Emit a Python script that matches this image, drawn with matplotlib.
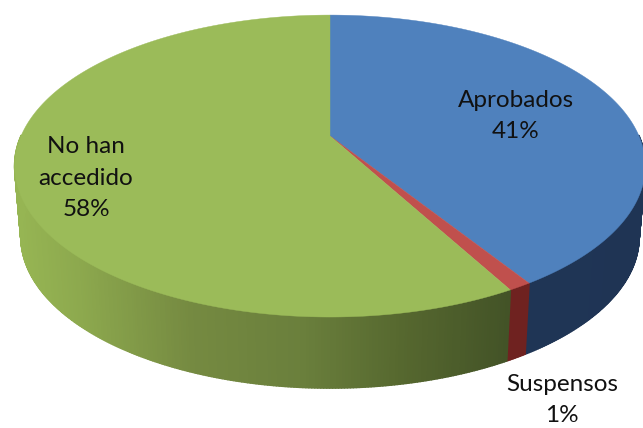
import numpy as np
import matplotlib
matplotlib.use("Agg")
import matplotlib.pyplot as plt
from matplotlib.collections import PolyCollection
from matplotlib.colors import LinearSegmentedColormap, Normalize

labels = ["Aprobados", "Suspensos", "No han\naccedido"]
values = [41, 1, 58]
top_colors = ["#4F81BD", "#C0504D", "#9BBB59"]
side_stops = [
    [(0.0, "#203758"), (1.0, "#1F3454")],
    [(0.0, "#6F2220"), (1.0, "#6F2220")],
    [(0.0, "#96B553"), (0.12, "#8DA94E"), (0.35, "#758A41"), (0.58, "#6A7F3C"), (0.78, "#56682F"), (1.0, "#435327")],
]
label_pos = [(516, 116), (562, 400), (86, 178)]

CX, CY, W, H, K, DEPTH, SHRINK = 330, 136, 309, 145, 0.199, 71, 0.98


def project(theta):
    """Clockwise angle from twelve o'clock on the disc -> perspective pixels."""
    x, y = np.sin(theta), np.cos(theta)
    d = 1 + K * y
    return CX + W * x / d, CY - H * y / d


fig = plt.figure(figsize=(6.43, 4.28), dpi=100, facecolor="white")
ax = fig.add_axes([0, 0, 1, 1])
ax.set_xlim(0, 643)
ax.set_ylim(428, 0)
ax.axis("off")

edges = np.cumsum([0] + values) / sum(values) * 2 * np.pi
xmin, xmax = project(-np.pi / 2)[0] - 5, project(edges[2])[0]

# rim (side wall), front half only; tops cover the join
for i in range(len(values)):
    th = np.linspace(edges[i], edges[i + 1], max(int(values[i] * 8), 12))
    X, Y = project(th)
    XB = CX + (X - CX) * SHRINK
    YB = Y + DEPTH
    polys, cols = [], []
    if i == 2:
        cmap = LinearSegmentedColormap.from_list("g", side_stops[i])
        norm = Normalize(xmin, xmax)
    else:
        cmap = LinearSegmentedColormap.from_list("s%d" % i, side_stops[i])
        norm = Normalize(X.min(), X.max())
    for j in range(len(th) - 1):
        if np.cos(th[j]) > 0 and np.cos(th[j + 1]) > 0:
            continue
        polys.append([(X[j], Y[j]), (X[j + 1], Y[j + 1]),
                      (XB[j + 1], YB[j + 1]), (XB[j], YB[j])])
        cols.append(cmap(norm((X[j] + X[j + 1]) / 2)))
    ax.add_collection(PolyCollection(polys, facecolors=cols, edgecolors=cols, linewidths=1.2))

# top faces
for i in range(len(values)):
    th = np.linspace(edges[i], edges[i + 1], max(int(values[i] * 8), 12))
    X, Y = project(th)
    ax.fill(np.r_[CX, X], np.r_[CY, Y], color=top_colors[i], lw=0.3, zorder=3)

for lab, val, (px, py) in zip(labels, values, label_pos):
    ax.text(px, py, f"{lab}\n{val}%", ha="center", va="center", fontsize=17.5,
            family="Lato", color="#111111", linespacing=1.62, zorder=5)

fig.savefig("out.png", dpi=100, facecolor="white")
